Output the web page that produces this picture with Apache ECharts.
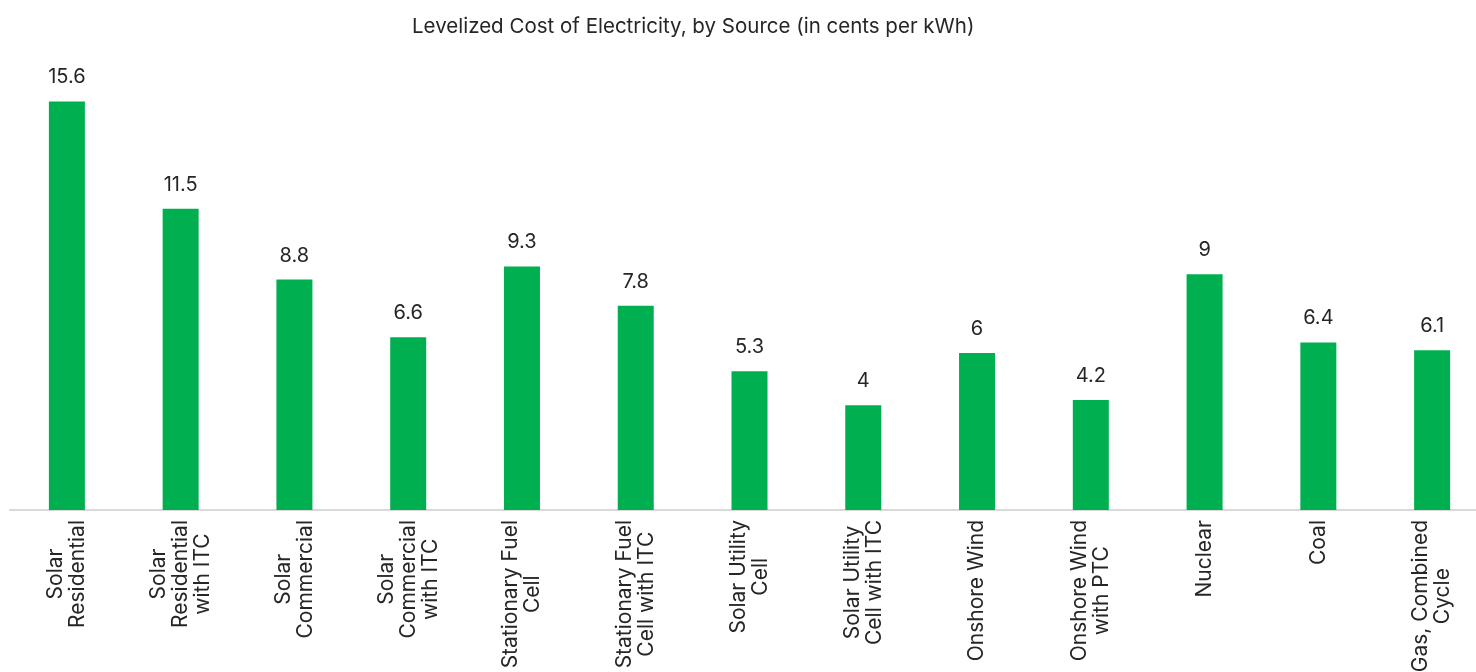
<!DOCTYPE html>
<html>
<head>
<meta charset="utf-8">
<script src="https://cdn.jsdelivr.net/npm/echarts@6/dist/echarts.min.js"></script>
<style>
html,body{margin:0;padding:0;background:#fff;overflow:hidden;}
#chart{width:1489px;height:672px;}
</style>
</head>
<body>
<div id="chart"></div>
<script>
const titleText = 'Levelized Cost of Electricity, by Source (in cents per kWh)';
const categories = [
  'Solar\nResidential',
  'Solar\nResidential\nwith ITC',
  'Solar\nCommercial',
  'Solar\nCommercial\nwith ITC',
  'Stationary Fuel\nCell',
  'Stationary Fuel\nCell with ITC',
  'Solar Utility\nCell',
  'Solar Utility\nCell with ITC',
  'Onshore Wind',
  'Onshore Wind\nwith PTC',
  'Nuclear',
  'Coal',
  'Gas, Combined\nCycle'
];
const values = [15.6, 11.5, 8.8, 6.6, 9.3, 7.8, 5.3, 4, 6, 4.2, 9, 6.4, 6.1];

const chart = echarts.init(document.getElementById('chart'));
const font = 'Inter, "Noto Sans", sans-serif';
chart.setOption({
  animation: false,
  title: {
    text: titleText,
    left: 407,
    top: 11,
    textStyle: {fontFamily: font, fontSize: 20.5, fontWeight: 'normal', color: '#262626'}
  },
  grid: {left: 10, top: 91, right: 0, bottom: 162, containLabel: false, outerBoundsMode: 'none'},
  xAxis: {
    type: 'category',
    data: categories,
    axisLine: {show: true, lineStyle: {color: '#d9d9d9', width: 2}},
    axisTick: {show: false},
    axisLabel: {
      interval: 0,
      rotate: 90,
      margin: 10,
      formatter: function (v) {
        return v.split('\n').map(function (l) { return '{a|' + l + '}'; }).join('\n');
      },
      rich: {a: {align: 'center', fontFamily: font, fontSize: 21, lineHeight: 22, color: '#262626'}}
    }
  },
  yAxis: {
    type: 'value',
    min: 0,
    max: 16,
    show: false,
    splitLine: {show: false}
  },
  series: [{
    type: 'bar',
    data: values,
    barWidth: 36,
    itemStyle: {color: '#00b050'},
    label: {
      show: true,
      position: 'top',
      distance: 14,
      fontFamily: font,
      fontSize: 20,
      color: '#262626'
    }
  }]
});
</script>
</body>
</html>
